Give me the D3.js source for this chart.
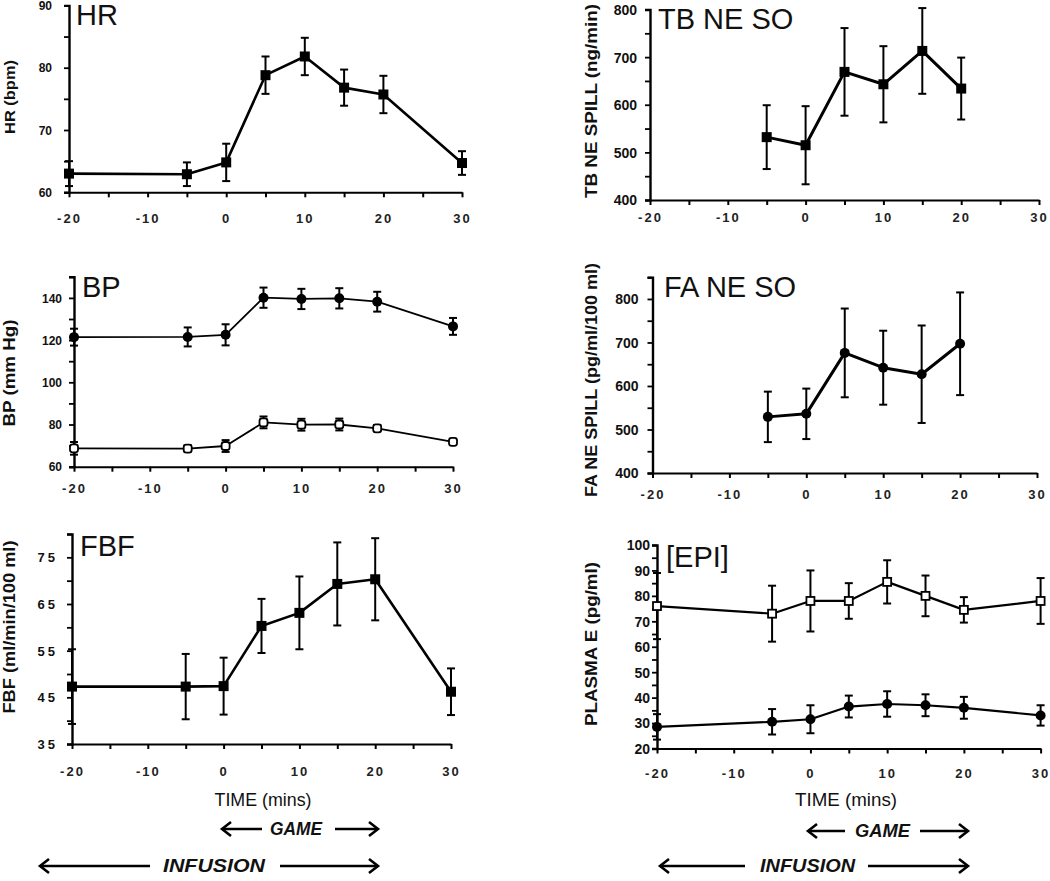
<!DOCTYPE html>
<html><head><meta charset="utf-8">
<script src="https://cdn.jsdelivr.net/npm/d3@7"></script>
<style>body{margin:0;background:#fff} svg{display:block}</style>
</head><body>
<svg id="chart" width="1050" height="881"></svg>
<script>
// ---------- data ----------
const timeAll   = [-20, -5, 0, 5, 10, 15, 20, 30];
const timeSpill = [-5, 0, 5, 10, 15, 20];
const xTickLabels = ["-20", "-10", "0", "10", "20", "30"];

const hrMean = [63.0, 62.9, 64.8, 78.8, 81.8, 76.8, 75.7, 64.7];
const hrErr  = [2.0, 1.9, 3.0, 3.0, 3.0, 2.9, 3.0, 1.9];
const hrTicks = ["60", "70", "80", "90"];

const bpSys    = [121.4, 121.5, 122.5, 140.1, 139.5, 139.8, 138.2, 126.5];
const bpSysErr = [4.0, 4.5, 5.0, 4.8, 4.8, 4.8, 4.7, 4.0];
const bpDia    = [68.7, 68.6, 69.8, 81.0, 79.9, 80.0, 78.2, 71.8];
const bpDiaErr = [3.0, 1.5, 2.8, 2.8, 2.8, 2.8, 1.5, 1.0];
const bpTicks = ["60", "80", "100", "120", "140"];

const fbfMean = [47.3, 47.3, 47.4, 60.3, 63.1, 69.3, 70.3, 46.2];
const fbfErr  = [8.0, 7.0, 6.1, 5.8, 7.8, 8.9, 8.8, 5.0];
const fbfTicks = ["35", "45", "55", "65", "75"];

const tbMean = [532, 515, 669, 643, 713, 634];
const tbErr  = [67, 82, 92, 80, 90, 65];
const tbTicks = ["400", "500", "600", "700", "800"];

const faMean = [529, 536, 676, 642, 627, 697];
const faErr  = [58, 58, 102, 85, 112, 118];
const faTicks = ["400", "500", "600", "700", "800"];

const epiOpen     = [76.0, 73.0, 78.0, 78.0, 85.5, 80.0, 74.5, 78.0];
const epiOpenErr  = [13.0, 11.0, 12.0, 7.0, 8.5, 8.0, 5.0, 9.0];
const epiFill     = [28.5, 30.5, 31.5, 36.5, 37.5, 37.0, 36.0, 33.0];
const epiFillErr  = [5.0, 5.0, 5.5, 4.3, 5.0, 4.3, 4.3, 4.0];
const epiTicks = ["20", "30", "40", "50", "60", "70", "80", "90", "100"];

// ---------- drawing ----------
const svg = d3.select("#chart");
const FONT = "'Liberation Sans', Arial, Helvetica, sans-serif";

function drawPanel(cfg) {
  const g = svg.append("g");
  const x = d3.scaleLinear().domain([-20, 30]).range(cfg.xr);
  const y = d3.scaleLinear().domain(cfg.yd).range(cfg.yr);

  // x axis
  const xAxis = d3.axisBottom(x)
    .tickValues(d3.range(-20, 31, 5))
    .tickSize(5).tickSizeOuter(0)
    .tickFormat(d => d % 10 === 0 ? xTickLabels[(d + 20) / 10] : "");
  const gx = g.append("g").attr("transform", `translate(0,${y(cfg.yd[0])})`).call(xAxis);
  gx.select(".domain").attr("stroke", "#000").attr("stroke-width", 2);
  gx.selectAll(".tick line").attr("stroke", "#000").attr("stroke-width", 2);
  gx.selectAll(".tick text")
    .attr("y", cfg.xLabOff).attr("dy", "0.35em")
    .attr("font-family", FONT).attr("font-weight", "bold")
    .attr("font-size", cfg.xLabSize || 13).attr("letter-spacing", cfg.xLabSpacing || 2)
    .attr("fill", "#222");

  // y axis
  const yMajorVals = cfg.yLabels.map(Number);
  const yAxis = d3.axisLeft(y)
    .tickValues(d3.range(cfg.yd[0], cfg.yd[1] + 1e-9, cfg.yMinor))
    .tickSize(5).tickSizeOuter(5)
    .tickFormat(d => {
      const i = yMajorVals.findIndex(v => Math.abs(v - d) < 1e-9);
      return i >= 0 ? cfg.yLabels[i] : "";
    });
  const gy = g.append("g").attr("transform", `translate(${cfg.xr[0]},0)`).call(yAxis);
  gy.select(".domain").attr("stroke", "#000").attr("stroke-width", 2.4);
  gy.selectAll(".tick line").attr("stroke", "#000").attr("stroke-width", 1.8);
  gy.selectAll(".tick text")
    .attr("x", -cfg.yLabGap).attr("dy", "0.35em")
    .attr("font-family", FONT).attr("font-weight", "bold")
    .attr("font-size", cfg.yLabSize || 12).attr("letter-spacing", cfg.yLabSpacing || 0)
    .attr("fill", "#111");

  // panel title
  g.append("text").attr("x", cfg.titleX).attr("y", cfg.titleY)
    .attr("font-family", FONT).attr("font-size", 29).attr("fill", "#111")
    .text(cfg.title);

  // y axis title
  g.append("text")
    .attr("transform", `translate(${cfg.yTitleX},${cfg.yTitleY}) rotate(-90)`)
    .attr("text-anchor", "middle")
    .attr("font-family", FONT).attr("font-weight", "bold").attr("font-size", cfg.yTitleSize)
    .attr("textLength", cfg.yTitleLen).attr("lengthAdjust", "spacingAndGlyphs")
    .attr("fill", "#111")
    .text(cfg.yTitle);

  // series
  cfg.series.forEach(s => {
    const pts = s.t.map((t, i) => ({ t, m: s.m[i], e: s.e[i] }));
    g.append("path").datum(pts)
      .attr("fill", "none").attr("stroke", "#000").attr("stroke-width", s.lw)
      .attr("stroke-linejoin", "round")
      .attr("d", d3.line().x(d => x(d.t)).y(d => y(d.m)));
    const eb = g.append("g").attr("stroke", "#000").attr("stroke-width", s.ew || 2);
    pts.forEach(d => {
      const cx = x(d.t), y1 = y(d.m + d.e), y2 = y(d.m - d.e);
      eb.append("line").attr("x1", cx).attr("x2", cx).attr("y1", y1).attr("y2", y2);
      eb.append("line").attr("x1", cx - 4).attr("x2", cx + 4).attr("y1", y1).attr("y2", y1);
      eb.append("line").attr("x1", cx - 4).attr("x2", cx + 4).attr("y1", y2).attr("y2", y2);
    });
    const mk = g.append("g");
    pts.forEach(d => {
      const cx = x(d.t), cy = y(d.m);
      if (s.marker === "sq") {
        mk.append("rect").attr("x", cx - 5).attr("y", cy - 5).attr("width", 10).attr("height", 10).attr("fill", "#000");
      } else if (s.marker === "osq") {
        mk.append("rect").attr("x", cx - 4).attr("y", cy - 4).attr("width", 8).attr("height", 8)
          .attr("fill", "#fff").attr("stroke", "#000").attr("stroke-width", 1.8);
      } else if (s.marker === "circ") {
        mk.append("circle").attr("cx", cx).attr("cy", cy).attr("r", 5).attr("fill", "#000");
      } else if (s.marker === "ocirc") {
        mk.append("rect").attr("x", cx - 4).attr("y", cy - 4).attr("width", 8).attr("height", 8).attr("rx", 2.5)
          .attr("fill", "#fff").attr("stroke", "#000").attr("stroke-width", 1.8);
      }
    });
  });
}

drawPanel({
  xr: [69, 462], yd: [60, 90], yr: [192.3, 5.4], yMinor: 5, yLabels: hrTicks,
  xLabOff: 26, yLabGap: 17, title: "HR", titleX: 76, titleY: 25,
  yTitle: "HR (bpm)", yTitleX: 15, yTitleY: 97, yTitleLen: 74, yTitleSize: 15,
  series: [{ t: timeAll, m: hrMean, e: hrErr, marker: "sq", lw: 2.6 }]
});
drawPanel({
  xr: [74, 453], yd: [60, 150], yr: [466.7, 276.8], yMinor: 10, yLabels: bpTicks,
  xLabOff: 22, yLabGap: 12, title: "BP", titleX: 82, titleY: 297,
  yTitle: "BP (mm Hg)", yTitleX: 15, yTitleY: 373, yTitleLen: 107, yTitleSize: 16,
  series: [
    { t: timeAll, m: bpSys, e: bpSysErr, marker: "circ", lw: 1.8 },
    { t: timeAll, m: bpDia, e: bpDiaErr, marker: "ocirc", lw: 1.8 }
  ]
});
drawPanel({
  xr: [72, 451], yd: [35, 80], yr: [744, 534], yMinor: 5, yLabels: fbfTicks,
  xLabOff: 27, yLabGap: 14, yLabSpacing: 3, yLabSize: 13, title: "FBF", titleX: 80, titleY: 556,
  yTitle: "FBF (ml/min/100 ml)", yTitleX: 15, yTitleY: 627, yTitleLen: 173, yTitleSize: 16,
  series: [{ t: timeAll, m: fbfMean, e: fbfErr, marker: "sq", lw: 2.6 }]
});
drawPanel({
  xr: [650, 1039], yd: [400, 800], yr: [200, 9.5], yMinor: 50, yLabels: tbTicks,
  xLabOff: 17, yLabGap: 13, yLabSize: 14, title: "TB NE SO", titleX: 658, titleY: 29,
  yTitle: "TB NE SPILL (ng/min)", yTitleX: 597, yTitleY: 101, yTitleLen: 194, yTitleSize: 17,
  series: [{ t: timeSpill, m: tbMean, e: tbErr, marker: "sq", lw: 3 }]
});
drawPanel({
  xr: [652.5, 1037], yd: [400, 850], yr: [473, 277.2], yMinor: 50, yLabels: faTicks,
  xLabOff: 21, yLabGap: 14, yLabSize: 14, title: "FA NE SO", titleX: 664, titleY: 297,
  yTitle: "FA NE SPILL (pg/ml/100 ml)", yTitleX: 597, yTitleY: 380, yTitleLen: 234, yTitleSize: 17,
  series: [{ t: timeSpill, m: faMean, e: faErr, marker: "circ", lw: 3 }]
});
drawPanel({
  xr: [657, 1040.6], yd: [20, 100], yr: [748.5, 545], yMinor: 5, yLabels: epiTicks,
  xLabOff: 25, yLabGap: 7, yLabSize: 14, title: "[EPI]", titleX: 666, titleY: 567,
  yTitle: "PLASMA E (pg/ml)", yTitleX: 597, yTitleY: 644, yTitleLen: 164, yTitleSize: 17,
  series: [
    { t: timeAll, m: epiOpen, e: epiOpenErr, marker: "osq", lw: 2.2 },
    { t: timeAll, m: epiFill, e: epiFillErr, marker: "circ", lw: 2.2 }
  ]
});

// ---------- bottom annotations ----------
function timeLabel(cx, cy, len) {
  svg.append("text").attr("x", cx).attr("y", cy).attr("dy", "0.35em")
    .attr("text-anchor", "middle").attr("font-family", FONT).attr("font-size", 18)
    .attr("textLength", len).attr("lengthAdjust", "spacingAndGlyphs").attr("fill", "#111")
    .text("TIME (mins)");
}
function arrowRow(a1, a2, label, tx, tlen, b1, b2, cy) {
  const g = svg.append("g").attr("stroke", "#000").attr("stroke-width", 2.6).attr("fill", "none");
  g.append("line").attr("x1", a1).attr("x2", a2).attr("y1", cy).attr("y2", cy);
  g.append("path").attr("d", `M${a1 + 9},${cy - 7} L${a1},${cy} L${a1 + 9},${cy + 7}`);
  g.append("line").attr("x1", b1).attr("x2", b2).attr("y1", cy).attr("y2", cy);
  g.append("path").attr("d", `M${b2 - 9},${cy - 7} L${b2},${cy} L${b2 - 9},${cy + 7}`);
  svg.append("text").attr("x", tx).attr("y", cy).attr("dy", "0.35em")
    .attr("font-family", FONT).attr("font-size", 18).attr("font-style", "italic").attr("font-weight", "bold")
    .attr("textLength", tlen).attr("lengthAdjust", "spacingAndGlyphs").attr("fill", "#111")
    .text(label);
}
timeLabel(263, 800, 97);
timeLabel(846, 800, 102);
arrowRow(222, 262, "GAME", 270, 52, 335, 378, 829);
arrowRow(40, 150, "INFUSION", 163, 102, 280, 378, 866);
arrowRow(808, 845, "GAME", 855, 55, 920, 968, 831);
arrowRow(660, 745, "INFUSION", 760, 95, 868, 968, 866);
</script>
</body></html>
